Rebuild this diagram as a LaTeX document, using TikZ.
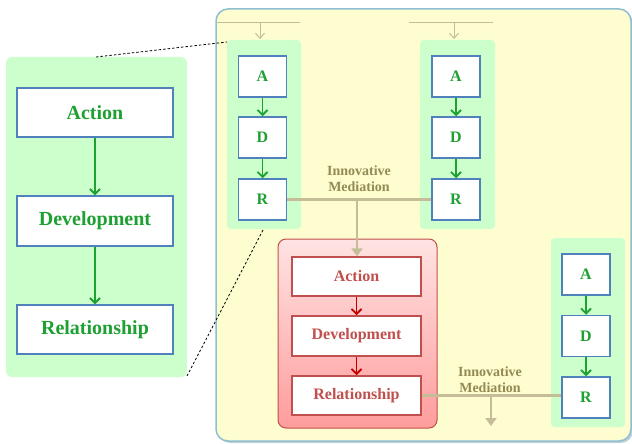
\documentclass[tikz,border=0pt]{standalone}
\usepackage{fontspec}
\setmainfont{Liberation Serif}
\usetikzlibrary{arrows.meta}
\definecolor{panelgreen}{HTML}{CCFFCC}
\definecolor{boxblue}{HTML}{4F81BD}
\definecolor{txtgreen}{HTML}{1FA032}
\definecolor{bgyellow}{HTML}{FDFDD0}
\definecolor{bgborder}{HTML}{8CBFD2}
\definecolor{tanline}{HTML}{C4BD97}
\definecolor{tantext}{HTML}{948A54}
\definecolor{redborder}{HTML}{C0504D}
\definecolor{redarrow}{HTML}{C00000}
\definecolor{redtop}{HTML}{FFE3E3}
\definecolor{redbot}{HTML}{FF9C9C}
\tikzset{
  bigbox/.style={draw=boxblue, line width=1.5pt, fill=white, minimum width=156pt, minimum height=49pt,
    inner sep=0pt, text=txtgreen, font=\fontsize{20}{24}\selectfont\bfseries},
  smallbox/.style={draw=boxblue, line width=1.5pt, fill=white, minimum width=48pt, minimum height=41pt,
    inner sep=0pt, text=txtgreen, font=\fontsize{16}{19}\selectfont\bfseries},
  redbox/.style={draw=redborder, line width=1.5pt, fill=white, minimum width=129pt, minimum height=39pt,
    inner sep=0pt, text=redborder, font=\fontsize{16}{19}\selectfont\bfseries},
  garrow/.style={draw=txtgreen, line width=1.8pt, -{Straight Barb[length=5pt,width=10pt,line width=1.8pt]}},
  rarrow/.style={draw=redarrow, line width=1.8pt, -{Straight Barb[length=5pt,width=10pt,line width=1.8pt]}},
  tanconn/.style={draw=tanline, line width=2.5pt},
  tanarrow/.style={draw=tanline, line width=2.5pt, -{Triangle[length=8pt,width=11pt]}},
  thintan/.style={draw=tanline, line width=1pt},
  thinarrow/.style={draw=tanline, line width=1pt, -{Straight Barb[length=5pt,width=9pt,line width=1pt]}},
  medlabel/.style={text=tantext, font=\fontsize{14}{16}\selectfont\bfseries, align=center, inner sep=0pt},
  zoomline/.style={draw=black, line width=0.8pt, dash pattern=on 2.5pt off 2pt},
}
\begin{document}
\begin{tikzpicture}[x=1pt,y=-1pt]
\useasboundingbox (0,0) rectangle (632,444);
% yellow background panel
\fill[bgborder!60!gray, opacity=0.5, rounded corners=12pt] (218,11) rectangle (633,443);
\filldraw[fill=bgyellow, draw=bgborder, line width=1.5pt, rounded corners=12pt] (216,9) rectangle (631,441);
% left green panel
\fill[panelgreen, rounded corners=6pt] (6,57) rectangle (187,377);
% small green panels
\fill[panelgreen, rounded corners=4pt] (227,40) rectangle (301,229);
\fill[panelgreen, rounded corners=4pt] (420,40) rectangle (495,229);
\fill[panelgreen, rounded corners=4pt] (551,238) rectangle (625,427);
% red panel
\shade[top color=redtop, bottom color=redbot, rounded corners=8pt] (278,239) rectangle (437,428);
\draw[redborder, line width=1pt, rounded corners=8pt] (278,239) rectangle (437,428);

% zoom dashed lines
\coordinate (z1a) at (96,57);
\coordinate (z1b) at (227,42);
\coordinate (z2a) at (187,376);
\coordinate (z2b) at (263,230);
\draw[zoomline] (z1a) -- (z1b);
\draw[zoomline] (z2a) -- (z2b);

% left big boxes
\node[bigbox] (Lact) at (95,112.5) {Action};
\node[bigbox, minimum height=50pt] (Ldev) at (95,221) {Development};
\node[bigbox] (Lrel) at (95,329.5) {Relationship};
\draw[garrow] (Lact) -- (Ldev);
\draw[garrow] (Ldev) -- (Lrel);

% top-left ADR
\node[smallbox] (A1) at (262.5,76.5) {A};
\node[smallbox] (D1) at (262.5,137.5) {D};
\node[smallbox] (R1) at (262.5,199.5) {R};
\draw[garrow] (A1) -- (D1);
\draw[garrow] (D1) -- (R1);

% top-right ADR
\node[smallbox] (A2) at (456,76.5) {A};
\node[smallbox] (D2) at (456,137.5) {D};
\node[smallbox] (R2) at (456,199.5) {R};
\draw[garrow] (A2) -- (D2);
\draw[garrow] (D2) -- (R2);

% bottom-right ADR
\node[smallbox] (A3) at (586,274.5) {A};
\node[smallbox] (D3) at (586,336) {D};
\node[smallbox] (R3) at (586,397.5) {R};
\draw[garrow] (A3) -- (D3);
\draw[garrow] (D3) -- (R3);

% red boxes
\node[redbox] (Ract) at (356.5,276.5) {Action};
\node[redbox, minimum height=40pt] (Rdev) at (356.5,336) {Development};
\node[redbox] (Rrel) at (356.5,395.5) {Relationship};
\draw[rarrow] (Ract) -- (Rdev);
\draw[rarrow] (Rdev) -- (Rrel);

% top incoming lines
\coordinate (t1a) at (216,23);
\coordinate (t1b) at (300,23);
\coordinate (t1m) at (260,23);
\coordinate (t1e) at (260,39);
\draw[thintan] (t1a) -- (t1b);
\draw[thinarrow] (t1m) -- (t1e);
\coordinate (t2a) at (409,23);
\coordinate (t2b) at (493,23);
\coordinate (t2m) at (454,23);
\coordinate (t2e) at (454,39);
\draw[thintan] (t2a) -- (t2b);
\draw[thinarrow] (t2m) -- (t2e);

% innovative mediation 1
\draw[tanconn] (R1.east) -- (R2.west);
\coordinate (j1) at (357,199.5);
\draw[tanarrow] (j1) -- (j1 |- Ract.north);
\node[medlabel] (m1) at (359,179) {Innovative\\Mediation};

% innovative mediation 2
\draw[tanconn] (Rrel.east) -- (Rrel.east -| R3.west);
\coordinate (j2) at (491,395.5);
\coordinate (j2e) at (491,426);
\draw[tanarrow] (j2) -- (j2e);
\node[medlabel] (m2) at (490,379.5) {Innovative\\Mediation};
\end{tikzpicture}
\end{document}
